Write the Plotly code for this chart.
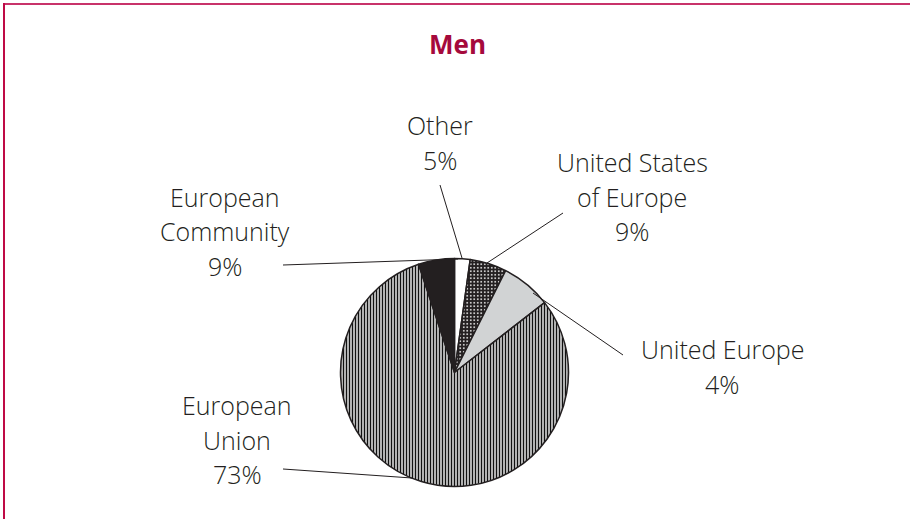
import plotly.graph_objects as go

# slices clockwise from 12 o'clock, shares
slices = ["Other", "United States of Europe", "United Europe", "European Union", "European Community"]
shares = [2.2, 5.2, 7.1, 80.4, 5.1]
# percentages as printed beside the pie
printed = ["5%", "9%", "4%", "73%", "9%"]
label_lines = [["Other"], ["United States", "of Europe"], ["United Europe"], ["European", "Union"], ["European", "Community"]]

W, H = 910, 519
INK = "#231f20"
RED = "#a50a3c"

def px(x):
    return x / W

def py(y):
    return 1 - y / H

# pie centre and radius in pixels
cx, cy, r = 454.5, 372.5, 114

pie = go.Pie(
    labels=slices,
    values=shares,
    sort=False,
    direction="clockwise",
    rotation=0,
    textinfo="none",
    hoverinfo="label+percent",
    showlegend=False,
    domain=dict(x=[px(cx - r), px(cx + r)], y=[py(cy + r), py(cy - r)]),
    marker=dict(
        colors=["#ffffff", "#231f20", "#d1d3d4", "#ffffff", "#231f20"],
        line=dict(color=INK, width=1.5),
        pattern=dict(
            shape=["", ".", "", "|", ""],
            fgcolor=["#ffffff", "#ffffff", "#d1d3d4", "#111111", "#231f20"],
            bgcolor=["#ffffff", "#231f20", "#d1d3d4", "#ffffff", "#231f20"],
            size=[4, 3.5, 4, 3, 4],
            solidity=[0.3, 0.2, 0.3, 0.55, 0.3],
        ),
    ),
)

fig = go.Figure(pie)

# label text blocks: centre x and first row y (pixels)
label_pos = [(440, 125), (632, 162), (722, 349), (237, 405), (225, 197)]
row_gap = 34.5

annotations = [dict(text="<b>Men</b>", x=px(457), y=py(44), xref="paper", yref="paper",
                    showarrow=False, xanchor="center", yanchor="middle",
                    font=dict(family="Open Sans", size=26, color=RED))]
for lines, pct, (lx, ly) in zip(label_lines, printed, label_pos):
    for i, t in enumerate(lines + [pct]):
        annotations.append(dict(text=t, x=px(lx), y=py(ly + i * row_gap), xref="paper", yref="paper",
                                showarrow=False, xanchor="center", yanchor="middle",
                                font=dict(family="Open Sans", size=25, color=INK, weight=300)))

# leader lines from label to pie
leaders = [((440, 185), (462, 258)), ((563, 213), (487, 263)), ((623, 355), (533, 293)),
           ((283, 469), (412, 478)), ((283, 265), (458, 259))]
shapes = []
for (x0, y0), (x1, y1) in leaders:
    shapes.append(dict(type="line", xref="paper", yref="paper", x0=px(x0), y0=py(y0), x1=px(x1), y1=py(y1),
                       line=dict(color=INK, width=1)))

# frame
shapes.append(dict(type="line", xref="paper", yref="paper", x0=px(3), y0=py(4), x1=1, y1=py(4),
                   line=dict(color="#c8336a", width=2)))
shapes.append(dict(type="line", xref="paper", yref="paper", x0=px(4), y0=py(3), x1=px(4), y1=0,
                   line=dict(color="#bf0a45", width=2)))

fig.update_layout(
    width=W, height=H,
    margin=dict(l=0, r=0, t=0, b=0),
    paper_bgcolor="white",
    plot_bgcolor="white",
    annotations=annotations,
    shapes=shapes,
)

# drop the default page margin so the figure sits at 0,0
fig.write_html("out.html", config={"displayModeBar": False},
               post_script="document.body.style.margin='0';document.body.style.overflow='hidden';")
